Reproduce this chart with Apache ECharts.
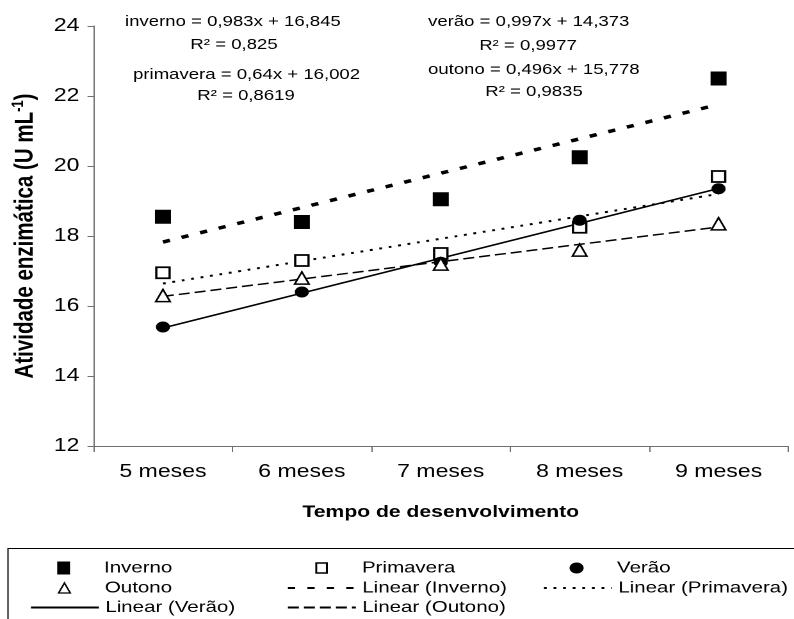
<!DOCTYPE html>
<html>
<head>
<meta charset="utf-8">
<script src="https://cdn.jsdelivr.net/npm/echarts@6/dist/echarts.min.js"></script>
<style>
  html, body { margin: 0; padding: 0; background: #fff; overflow: hidden; }
  /* the chart is laid out on a narrower box and widened to the page width */
  #chart { width: 620px; height: 619px; transform: scaleX(1.28065); transform-origin: 0 0; }
</style>
</head>
<body>
<div id="chart"></div>
<script>
// Categories
const months = ['5 meses', '6 meses', '7 meses', '8 meses', '9 meses'];

// Measured enzyme activity (U mL-1) per season
const inverno   = [18.55, 18.40, 19.05, 20.25, 22.50];
const primavera = [16.95, 17.30, 17.50, 18.25, 19.70];
const verao     = [15.40, 16.40, 17.25, 18.45, 19.35];
const outono    = [16.30, 16.80, 17.20, 17.60, 18.35];

// Linear trend values at each month
const trendInverno   = [17.828, 18.811, 19.794, 20.777, 21.760];
const trendPrimavera = [16.642, 17.282, 17.922, 18.562, 19.202];
const trendVerao     = [15.370, 16.367, 17.364, 18.361, 19.358];
const trendOutono    = [16.274, 16.770, 17.266, 17.762, 18.258];

// Y axis range
const yMin = 12, yMax = 24, yStep = 2;

// Trend equations
const equations = [
  { text: 'inverno = 0,983x + 16,845', x: 125, y: 22, align: 'left' },
  { text: 'R\u00B2 = 0,825', x: 234, y: 45, align: 'center' },
  { text: 'primavera = 0,64x + 16,002', x: 133, y: 75, align: 'left' },
  { text: 'R\u00B2 = 0,8619', x: 246, y: 96, align: 'center' },
  { text: 'ver\u00E3o = 0,997x + 14,373', x: 428, y: 22, align: 'left' },
  { text: 'R\u00B2 = 0,9977', x: 528, y: 46, align: 'center' },
  { text: 'outono = 0,496x + 15,778', x: 428, y: 70, align: 'left' },
  { text: 'R\u00B2 = 0,9835', x: 534, y: 92, align: 'center' }
];

const SX = 794 / 620;            // horizontal widening of the chart box
const px = x => x / SX;          // page x -> chart x
const FONT = '"Liberation Sans", Arial, sans-serif';

const chart = echarts.init(document.getElementById('chart'), null, { devicePixelRatio: 2 });

// one legend block per entry, laid out as a 3-column table
const ITEM_W = px(68);
const rowsY = [568, 588, 607.5];
const colsX = [px(104) - ITEM_W - 5, px(361) - ITEM_W - 5, px(617) - ITEM_W - 5];
// iconW: drawn width of a centred marker icon; the legend box starts at the icon itself
function legendEntry(col, row, iconW, extra) {
  const shift = iconW ? (ITEM_W - iconW) / 2 : 0;
  return Object.assign({
    show: true,
    orient: 'horizontal',
    left: colsX[col] + shift,
    top: rowsY[row] - 9,
    padding: 0,
    itemWidth: ITEM_W,
    itemHeight: 14,
    selectedMode: false,
    textStyle: { fontFamily: FONT, fontSize: 16, color: '#000', lineHeight: 18 }
  }, extra);
}

const legends = [
  legendEntry(0, 0, 10, { itemHeight: 13, data: [{ name: 'Inverno', icon: 'path://M0,0H10V13H0Z', itemStyle: { color: '#000', borderWidth: 0 } }] }),
  legendEntry(1, 0, 8.3, { itemHeight: 10, data: [{ name: 'Primavera', icon: 'path://M0,0H8.3V10H0Z', itemStyle: { color: '#fff', borderColor: '#000', borderWidth: 1.5 } }] }),
  legendEntry(2, 0, 11, { itemHeight: 11, data: [{ name: 'Ver\u00E3o', icon: 'circle', itemStyle: { color: '#000', borderWidth: 0 } }] }),
  legendEntry(0, 1, 9.1, { itemHeight: 10, data: [{ name: 'Outono', icon: 'path://M4.55,0L9.1,10H0Z', itemStyle: { color: '#fff', borderColor: '#000', borderWidth: 1.3 } }] }),
  legendEntry(1, 1, 0, { data: [{ name: 'Linear (Inverno)', itemStyle: { opacity: 0 } }] }),
  legendEntry(2, 1, 0, { data: [{ name: 'Linear (Primavera)', itemStyle: { opacity: 0 } }] }),
  legendEntry(0, 2, 0, { data: [{ name: 'Linear (Ver\u00E3o)', itemStyle: { opacity: 0 } }] }),
  legendEntry(1, 2, 0, { data: [{ name: 'Linear (Outono)', itemStyle: { opacity: 0 } }] })
];

const graphics = equations.map(e => ({
  type: 'text',
  silent: true,
  x: px(e.x),
  y: e.y,
  style: {
    text: e.text,
    font: '14.5px ' + FONT,
    fill: '#000',
    textAlign: e.align,
    align: e.align,
    textVerticalAlign: 'middle',
    verticalAlign: 'middle'
  }
}));
// legend frame
graphics.push({
  type: 'rect',
  silent: true,
  shape: { x: px(8), y: 548.5, width: 700, height: 120 },
  style: { fill: 'none', stroke: '#000', lineWidth: 1 }
});

const AXIS_COLOR = '#707070';

const option = {
  animation: false,
  backgroundColor: '#fff',
  grid: { left: px(92), right: 620 - px(788), top: 26, bottom: 173, containLabel: false },
  xAxis: {
    type: 'category',
    data: months,
    boundaryGap: true,
    axisLine: { show: true, lineStyle: { color: AXIS_COLOR, width: 1 } },
    axisTick: { show: true, length: 6, interval: 0, lineStyle: { color: AXIS_COLOR } },
    axisLabel: { margin: 17, fontFamily: FONT, fontSize: 18, color: '#000', interval: 0 },
    splitLine: { show: false },
    name: 'Tempo de desenvolvimento',
    nameLocation: 'middle',
    nameGap: 58,
    nameTextStyle: { fontFamily: FONT, fontSize: 16.5, fontWeight: 'bold', color: '#000' }
  },
  yAxis: {
    type: 'value',
    min: yMin,
    max: yMax,
    interval: yStep,
    axisLine: { show: true, lineStyle: { color: AXIS_COLOR, width: 1 } },
    axisTick: { show: true, length: px(6), lineStyle: { color: AXIS_COLOR } },
    axisLabel: { margin: px(14), fontFamily: FONT, fontSize: 18, color: '#000' },
    splitLine: { show: false },
    name: '{a|Atividade enzim\u00E1tica (U mL}{s|-1}{a|)}',
    nameLocation: 'middle',
    nameGap: 41,
    nameTextStyle: {
      color: '#000',
      rich: {
        a: { fontFamily: FONT, fontSize: 20.5, fontWeight: 'bold', color: '#000', lineHeight: 24 },
        s: { fontFamily: FONT, fontSize: 13, fontWeight: 'bold', color: '#000', lineHeight: 13, verticalAlign: 'top' }
      }
    }
  },
  legend: legends,
  graphic: graphics,
  series: [
    {
      name: 'Linear (Inverno)', type: 'line', data: trendInverno, z: 1,
      symbol: 'none', silent: true,
      lineStyle: { color: '#000', width: 3.5, type: [5.7, 9.5], cap: 'butt' }
    },
    {
      name: 'Linear (Primavera)', type: 'line', data: trendPrimavera, z: 1,
      symbol: 'none', silent: true,
      lineStyle: { color: '#000', width: 2, type: [2.2, 5.3], cap: 'butt' }
    },
    {
      name: 'Linear (Ver\u00E3o)', type: 'line', data: trendVerao, z: 1,
      symbol: 'none', silent: true,
      lineStyle: { color: '#000', width: 1.6, type: 'solid' }
    },
    {
      name: 'Linear (Outono)', type: 'line', data: trendOutono, z: 1,
      symbol: 'none', silent: true,
      lineStyle: { color: '#000', width: 1.5, type: [8.6, 3.9], cap: 'butt' }
    },
    {
      name: 'Inverno', type: 'scatter', data: inverno, z: 3, silent: true,
      symbol: 'rect', symbolSize: [12.5, 14],
      itemStyle: { color: '#000', opacity: 1 }
    },
    {
      name: 'Primavera', type: 'scatter', data: primavera, z: 3, silent: true,
      symbol: 'rect', symbolSize: [10.4, 11],
      itemStyle: { color: '#fff', borderColor: '#000', borderWidth: 1.8, opacity: 1 }
    },
    {
      name: 'Ver\u00E3o', type: 'scatter', data: verao, z: 3, silent: true,
      symbol: 'circle', symbolSize: 11,
      itemStyle: { color: '#000', opacity: 1 }
    },
    {
      name: 'Outono', type: 'scatter', data: outono, z: 3, silent: true,
      symbol: 'triangle', symbolSize: [11.2, 12.3],
      itemStyle: { color: '#fff', borderColor: '#000', borderWidth: 1.5, opacity: 1 }
    }
  ]
};

chart.setOption(option);
</script>
</body>
</html>
